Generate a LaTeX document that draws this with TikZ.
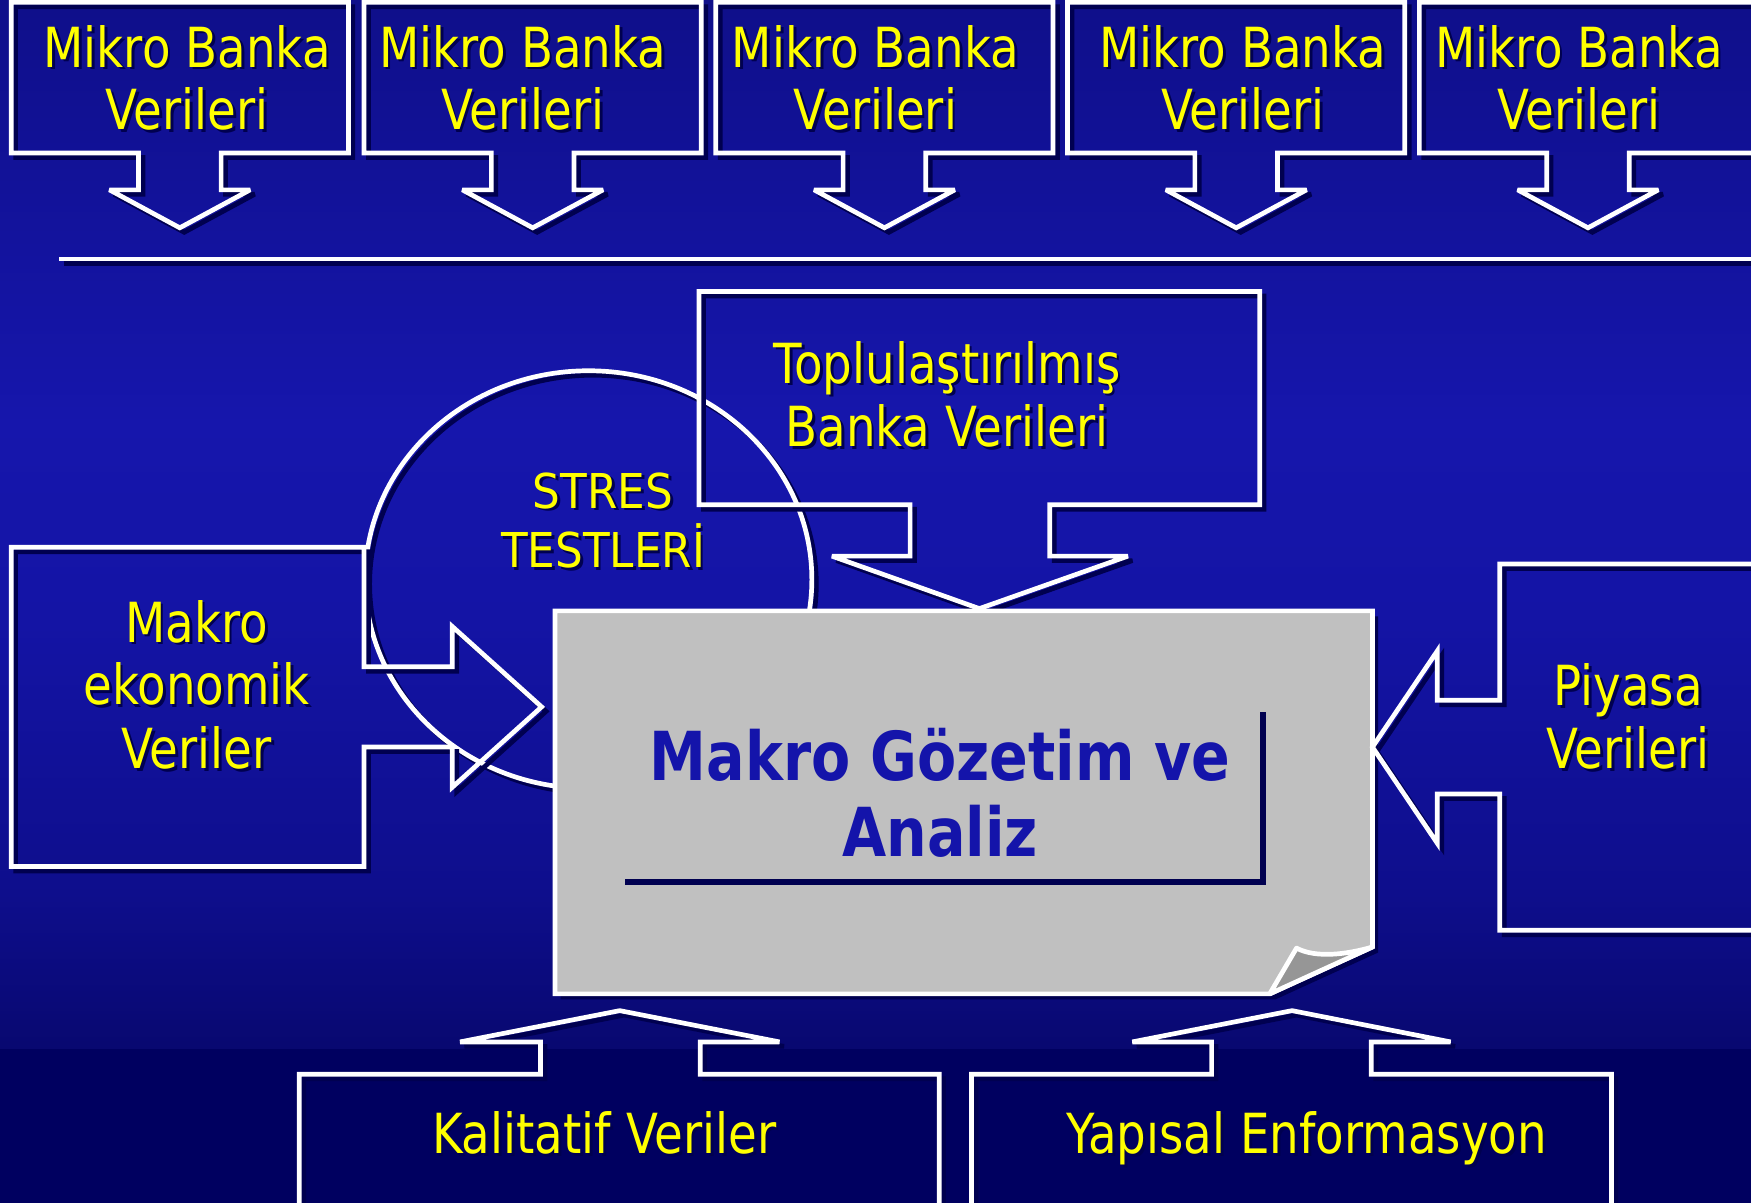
\documentclass[tikz,border=0pt]{standalone}
\usepackage{fontspec}
\setmainfont{DejaVu Sans}[FakeStretch=0.845]
\newfontfamily\capsfont{DejaVu Sans}[FakeStretch=0.91]
\definecolor{bgTop}{RGB}{15,15,138}
\definecolor{bgF}{RGB}{22,22,172}
\definecolor{bgE}{RGB}{20,20,165}
\definecolor{bgD}{RGB}{14,14,140}
\definecolor{bgC}{RGB}{8,8,112}
\definecolor{bgBot}{RGB}{0,0,96}
\definecolor{shd}{RGB}{0,0,80}
\definecolor{yel}{RGB}{255,255,0}
\definecolor{greyc}{RGB}{192,192,192}
\definecolor{foldc}{RGB}{150,150,150}
\definecolor{titc}{RGB}{20,20,170}
\newcommand\bigf{\fontsize{49.5}{56}\selectfont}
\newcommand\midf{\capsfont\fontsize{43}{52}\selectfont}
\newcommand\titf{\fontsize{60.5}{68}\selectfont\bfseries}
\newcommand\outl[1]{\draw[shline] #1; \draw[wline] #1;}
\newcommand\ytxt[5][\bigf]{%
  \node[ytshadow,font=#1] at (#3+2.5,#4+2.5) {#5};
  \node[ytext,font=#1] (#2) at (#3,#4) {#5};}
\begin{document}
\begin{tikzpicture}[x=1pt,y=-1pt,line join=miter,miter limit=4,
  wline/.style={draw=white,line width=4.2},
  shline/.style={draw=shd,line width=4.2,shift={(4,4)}},
  ytext/.style={anchor=base,inner sep=0,text=yel},
  ytshadow/.style={anchor=base,inner sep=0,text=shd},
  ttext/.style={anchor=base,inner sep=0,text=titc,font=\titf}]
\clip (0,0) rectangle (1568,1077);
% background
\shade[top color=bgTop,bottom color=bgF] (0,-1) rectangle (1568,380.5);
\shade[top color=bgF,bottom color=bgE] (0,380) rectangle (1568,550.5);
\shade[top color=bgE,bottom color=bgD] (0,550) rectangle (1568,800.5);
\shade[top color=bgD,bottom color=bgC] (0,800) rectangle (1568,939.5);
\fill[bgBot] (0,939) rectangle (1568,1080);
% stress test circle
\outl{(527,519) ellipse [x radius=200,y radius=187]}
% macro-economic data box with arrow
\outl{(10,490) -- (326,490) -- (326,597) -- (405,597) -- (405,561) -- (485,633) -- (405,705) -- (405,669) -- (326,669) -- (326,776) -- (10,776) -- cycle}
% aggregated bank data box
\outl{(626,261) -- (1128,261) -- (1128,452) -- (940,452) -- (940,498) -- (1010,498) -- (877,545) -- (745,498) -- (815,498) -- (815,452) -- (626,452) -- cycle}
% central grey box
\fill[shd] (502,552) -- (1234,552) -- (1234,853) -- (1142,895) -- (502,895) -- cycle;
\filldraw[fill=greyc,draw=white,line width=4.2] (497,547) -- (1229,547) -- (1229,848) -- (1137,890) -- (497,890) -- cycle;
\filldraw[fill=foldc,draw=white,line width=4.2,line join=round] (1137,890) -- (1161,849) .. controls (1178,858) and (1205,855) .. (1229,848) -- cycle;
\draw[shd,line width=5] (560,790) -- (1131,790) -- (1131,638);
% market data box
\outl{(1580,505) -- (1343,505) -- (1343,627) -- (1287,627) -- (1287,583) -- (1229,669) -- (1287,755) -- (1287,711) -- (1343,711) -- (1343,833) -- (1580,833)}
% bottom boxes
\outl{(268,1090) -- (268,962) -- (484,962) -- (484,933) -- (412,933) -- (555,905) -- (698,933) -- (627,933) -- (627,962) -- (841,962) -- (841,1090)}
\outl{(870,1090) -- (870,962) -- (1085,962) -- (1085,933) -- (1014,933) -- (1157,905) -- (1299,933) -- (1228,933) -- (1228,962) -- (1443,962) -- (1443,1090)}
% top micro bank data boxes
\foreach \L/\tx [count=\i] in {10/167.5,326/468,641/784,956/1113,1271/1414}{
  \outl{(\L,2) -- (\L+302,2) -- (\L+302,137) -- (\L+151+37,137) -- (\L+151+37,170) -- (\L+151+63,170) -- (\L+151,204) -- (\L+151-63,170) -- (\L+151-37,170) -- (\L+151-37,137) -- (\L,137) -- cycle}
  \ytxt{mb\i a}{\tx}{60}{Mikro Banka}
  \ytxt{mb\i b}{\tx}{116}{Verileri}
}
% separator line
\outl{(53,232) -- (1580,232)}
% texts
\ytxt{tb1}{848}{343}{Toplulaştırılmış}
\ytxt{tb2}{848}{400}{Banka Verileri}
\ytxt[\midf]{st1}{540}{455}{STRES}
\ytxt[\midf]{st2}{540}{508}{TESTLERİ}
\ytxt{mk1}{176}{575}{Makro}
\ytxt{mk2}{176}{631}{ekonomik}
\ytxt{mk3}{176}{688}{Veriler}
\ytxt{pv1}{1458}{632}{Piyasa}
\ytxt{pv2}{1458}{688}{Verileri}
\ytxt{kv}{541}{1033}{Kalitatif Veriler}
\ytxt{ye}{1170}{1033}{Yapısal Enformasyon}
\node[ttext] (t1) at (842,699) {Makro Gözetim ve};
\node[ttext] (t2) at (842,767) {Analiz};
\end{tikzpicture}
\end{document}
